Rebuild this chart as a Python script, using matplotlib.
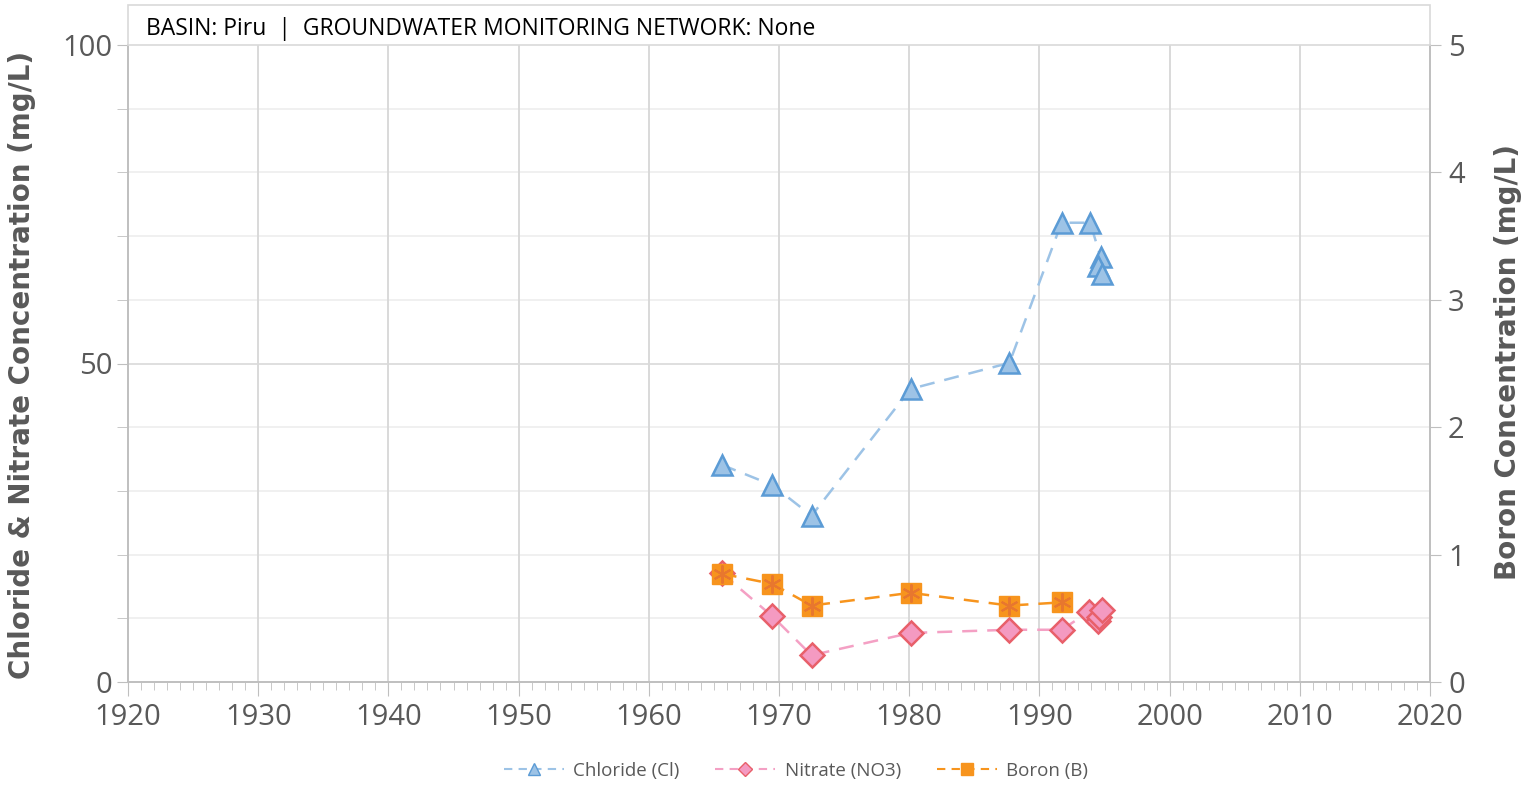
import numpy as np
import matplotlib.pyplot as plt
from matplotlib.patches import Rectangle
from matplotlib.lines import Line2D

# data (decimal year, mg/L)
cl_year = [1965.6, 1969.5, 1972.5, 1980.1, 1987.7, 1991.7, 1993.9, 1994.7, 1994.5, 1994.8]
cl_val = [34.1, 30.9, 26.1, 46.0, 50.1, 72.1, 72.1, 66.7, 65.3, 64.0]

no3_year = [1965.6, 1969.5, 1972.5, 1980.1, 1987.7, 1991.7, 1993.8, 1994.5, 1994.6, 1994.8]
no3_val = [17.1, 10.3, 4.2, 7.7, 8.2, 8.2, 11.0, 9.5, 10.2, 11.3]

b_year = [1965.6, 1969.5, 1972.5, 1980.1, 1987.7, 1991.7]
b_val = [0.85, 0.77, 0.60, 0.70, 0.60, 0.625]

x_ticks = list(range(1920, 2021, 10))

plt.rcParams['font.family'] = ['Open Sans', 'DejaVu Sans']
tick_grey = '#595959'
axis_grey = '#BFBFBF'

fig = plt.figure(figsize=(15.4, 7.85), dpi=100)
ax = fig.add_axes([128/1540, 1-682/785, (1430-128)/1540, (682-45)/785])
ax2 = ax.twinx()

ax.set_xlim(1920, 2020)
ax.set_ylim(0, 100)
ax2.set_ylim(0, 5)

# grid
for y in range(10, 100, 10):
    ax.axhline(y, color='#D9D9D9' if y == 50 else '#EDEDED', lw=1.2, zorder=0)
for x in x_ticks[1:-1]:
    ax.axvline(x, color='#D9D9D9', lw=1.4, zorder=0)

ax.set_xticks(x_ticks)
ax.set_xticks(range(1920, 2021), minor=True)
ax.set_yticks([0, 50, 100])
ax.set_yticks(range(0, 101, 10), minor=True)
ax2.set_yticks(range(0, 6))

ax.tick_params(axis='x', which='major', length=10, color=axis_grey, labelsize=21,
               labelcolor=tick_grey, pad=5)
ax.tick_params(axis='x', which='minor', length=6, color=axis_grey)
ax.tick_params(axis='y', which='major', length=8, color=axis_grey, labelsize=21,
               labelcolor=tick_grey, pad=3)
ax.tick_params(axis='y', which='minor', length=8, color=axis_grey)
ax2.tick_params(axis='y', length=8, color=axis_grey, labelsize=21, labelcolor=tick_grey,
                pad=5)

for a in (ax, ax2):
    for s in a.spines.values():
        s.set_color(axis_grey)
        s.set_linewidth(1.2)
    a.spines['top'].set_visible(False)

fig.text(22/1540, 1-365/785, 'Chloride & Nitrate Concentration (mg/L)', fontsize=20,
         fontweight='bold', color=tick_grey, family='DejaVu Sans', rotation=90,
         ha='center', va='center')
fig.text(1508/1540, 1-362/785, 'Boron Concentration (mg/L)', fontsize=20,
         fontweight='bold', color=tick_grey, family='DejaVu Sans', rotation=90,
         ha='center', va='center')

# series
ax.plot(cl_year, cl_val, ls=(0, (6, 4)), color='#9DC3E6', lw=1.8, marker='^', ms=15,
        mfc='#9DC3E6', mec='#5B9BD5', mew=1.8, zorder=3)
ax.plot(no3_year, no3_val, ls=(0, (6, 4)), color='#F4A0C4', lw=1.8, marker='D', ms=12,
        mfc='#F49AC1', mec='#E8606A', mew=1.8, zorder=3)
ax2.plot(b_year, b_val, ls=(0, (6, 4)), color='#F7941D', lw=1.8, marker='s', ms=15,
         mfc='#F7941D', mec='#F7941D', zorder=3)
ax2.plot(b_year, b_val, ls='none', marker=(6, 2, 0), ms=13, mec='#E8772E', mew=1.5, zorder=4)

# header box
fig.patches.append(Rectangle((128/1540, 1-45/785), (1430-128)/1540, 40/785,
                             transform=fig.transFigure, fill=False, ec='#D9D9D9', lw=1.2))
fig.text(146/1540, 1-29/785, 'BASIN: Piru  |  GROUNDWATER MONITORING NETWORK: None',
         fontsize=16.5, va='center', ha='left', color='black')

handles = [
    Line2D([], [], ls=(0, (4, 3)), color='#9DC3E6', lw=1.5, marker='^', ms=9,
           mfc='#9DC3E6', mec='#5B9BD5'),
    Line2D([], [], ls=(0, (4, 3)), color='#F4A0C4', lw=1.5, marker='D', ms=7,
           mfc='#F49AC1', mec='#E8606A'),
    Line2D([], [], ls=(0, (4, 3)), color='#F7941D', lw=1.5, marker='s', ms=9,
           mfc='#F7941D', mec='#F7941D'),
]
fig.legend(handles, ['Chloride (Cl)', 'Nitrate (NO3)', 'Boron (B)'], loc='center',
           bbox_to_anchor=(796/1540, 1-771/785), ncol=3, frameon=False, fontsize=13.5,
           handlelength=3.2, handletextpad=0.5, columnspacing=1.9, labelcolor=tick_grey)

fig.savefig('out.png', dpi=100)
